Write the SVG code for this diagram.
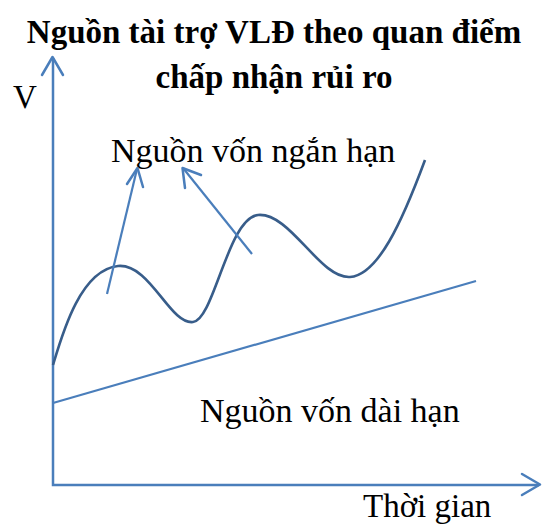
<svg xmlns="http://www.w3.org/2000/svg" width="543" height="526" viewBox="0 0 543 526">
<style>
.t{font-family:"Liberation Serif","Times New Roman",serif;font-size:33px;fill:#000}
.l{font-size:34px}
.b{font-weight:bold}
.ax{stroke:#4a7ebb;stroke-width:2.5;fill:none}
.ln{stroke:#4a7ebb;stroke-width:2.2;fill:none}
.cv{stroke:#385d8a;stroke-width:2.6;fill:none}
.ah{stroke:#4a7ebb;stroke-width:2.5;fill:none;stroke-linecap:round;stroke-linejoin:round}
</style>
<g id="title">
<text class="t b" x="274" y="43" text-anchor="middle">Nguồn tài trợ VLĐ theo quan điểm</text>
<text class="t b" x="274" y="88" text-anchor="middle">chấp nhận rủi ro</text>
</g>
<g id="axes">
<path class="ax" d="M53,58 V485 H539"/>
<path class="ah" d="M42,75 L52.5,57 L63,75"/>
<path class="ah" d="M522,474 L540,484.5 L522,495"/>
<text class="t" x="13" y="108">V</text>
<text class="t" x="363" y="517">Thời gian</text>
</g>
<g id="short-term">
<path class="cv" d="M53,365 C62,335 80,270 118,266 C150,263 170,325 193,322 C214,320 228,218 258,215 C290,212 320,279 350,277 C378,275 402,222 425,160"/>
<text class="t l" x="111" y="162">Nguồn vốn ngắn hạn</text>
</g>
<g id="long-term">
<path class="ln" d="M53,403 L476,281"/>
<text class="t l" x="200" y="422">Nguồn vốn dài hạn</text>
</g>
<g id="connectors">
<path class="ln" d="M107,294 L137,169"/>
<path class="ah" d="M127,184 L137.5,168 L143,187"/>
<path class="ln" d="M252,254 L183,168"/>
<path class="ah" d="M185,188 L182.5,168 L201,175"/>
</g>
</svg>
